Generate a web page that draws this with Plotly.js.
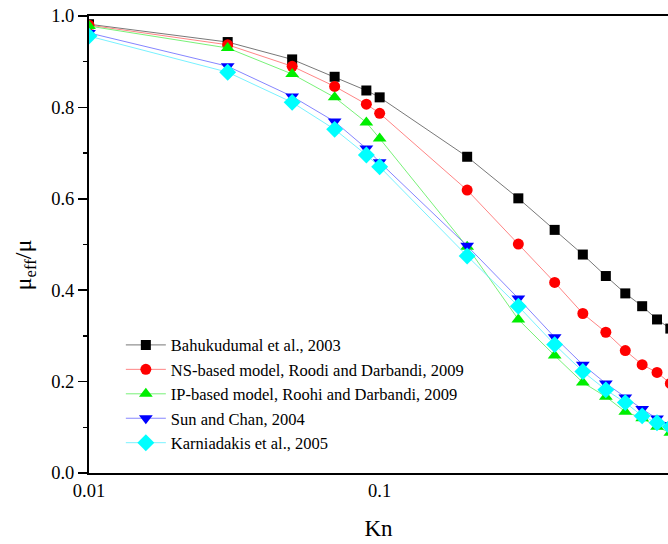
<!DOCTYPE html>
<html>
<head>
<meta charset="utf-8">
<script src="https://cdn.plot.ly/plotly-3.0.1.min.js"></script>
<style>
  html, body { margin: 0; padding: 0; background: #fff; overflow: hidden; }
  #graphDiv { width: 668px; height: 544px; }
</style>
</head>
<body>
<div id="graphDiv"></div>
<script>
// html tag
const graphDiv = document.getElementById('graphDiv');

// data **************************************************
const kn = [0.01, 0.03, 0.05, 0.07, 0.09, 0.1, 0.2, 0.3, 0.4, 0.5, 0.6, 0.7, 0.8, 0.9, 1.0];

const bahukudumal = [0.982, 0.943, 0.905, 0.867, 0.837, 0.822, 0.692, 0.601, 0.532, 0.478, 0.431, 0.393, 0.365, 0.336, 0.316];
const nsBased     = [0.980, 0.937, 0.890, 0.846, 0.807, 0.787, 0.619, 0.501, 0.417, 0.349, 0.308, 0.268, 0.237, 0.220, 0.196];
const ipBased     = [0.978, 0.930, 0.873, 0.822, 0.767, 0.732, 0.495, 0.336, 0.257, 0.198, 0.167, 0.134, 0.120, 0.101, 0.088];
const sunChan     = [0.963, 0.890, 0.824, 0.769, 0.710, 0.680, 0.497, 0.382, 0.297, 0.237, 0.196, 0.165, 0.140, 0.119, 0.105];
const karniadakis = [0.956, 0.877, 0.811, 0.752, 0.696, 0.670, 0.475, 0.365, 0.281, 0.222, 0.182, 0.154, 0.125, 0.110, 0.101];

const seriesNames = [
  'Bahukudumal et al., 2003',
  'NS-based model, Roodi and Darbandi, 2009',
  'IP-based model, Roohi and Darbandi, 2009',
  'Sun and Chan, 2004',
  'Karniadakis et al., 2005'
];

const xTickVals = [0.01, 0.1];
const xTickText = ['0.01', '0.1'];
const yTickVals = [0.0, 0.2, 0.4, 0.6, 0.8, 1.0];
const yTickText = ['0.0', '0.2', '0.4', '0.6', '0.8', '1.0'];

// *******************************

const serif = 'Times New Roman, Tinos, Nimbus Roman, FreeSerif, DejaVu Serif Condensed, DejaVu Serif';

function trace(name, y, color, lineColor, symbol, size) {
  return {
    name: name,
    x: kn,
    y: y,
    type: 'scatter',
    mode: 'lines+markers',
    line: {color: lineColor, width: 0.8},
    marker: {color: color, symbol: symbol, size: size, line: {width: 0}}
  };
}

Plotly.newPlot(
  graphDiv,
  [
    trace(seriesNames[0], bahukudumal, '#000000', '#555555', 'square', 10),
    trace(seriesNames[1], nsBased, '#ff0000', '#ff6666', 'circle', 11),
    trace(seriesNames[2], ipBased, '#00ee00', '#55ee55', 'triangle-up', 12),
    trace(seriesNames[3], sunChan, '#0000ff', '#6666ff', 'triangle-down', 12),
    trace(seriesNames[4], karniadakis, '#00ffff', '#55eeff', 'diamond', 13)
  ],
  {
    width: 668,
    height: 544,
    margin: {l: 89, r: 0, t: 16, b: 71},
    paper_bgcolor: '#ffffff',
    plot_bgcolor: '#ffffff',
    font: {family: serif, size: 18, color: '#000'},
    showlegend: true,
    legend: {
      x: 0.055, y: 0.318, xanchor: 'left', yanchor: 'top',
      bgcolor: 'rgba(0,0,0,0)', borderwidth: 0,
      font: {family: serif, size: 16.5, color: '#000'},
      itemwidth: 40,
      tracegroupgap: 0
    },
    xaxis: {
      type: 'log',
      range: [-2, -0.008],
      tickvals: xTickVals,
      ticktext: xTickText,
      ticks: '',
      showgrid: false,
      zeroline: false,
      showline: true,
      linecolor: '#000',
      linewidth: 2,
      mirror: true,
      tickfont: {family: serif, size: 18.5},
      title: {text: 'Kn', font: {family: serif, size: 23}, standoff: 20}
    },
    yaxis: {
      range: [0, 1.0],
      tickvals: yTickVals,
      ticktext: yTickText,
      ticks: 'outside',
      ticklen: 9,
      tickwidth: 1.5,
      tickcolor: '#000',
      minor: {dtick: 0.1, ticks: 'outside', ticklen: 4, tickwidth: 1.5, tickcolor: '#000'},
      showgrid: false,
      zeroline: false,
      showline: true,
      linecolor: '#000',
      linewidth: 2,
      tickfont: {family: serif, size: 18.5}
    },
    annotations: [
      {
        text: '\u03bc<sub>eff</sub>/\u03bc',
        xref: 'paper', yref: 'paper',
        x: -0.11, y: 0.455,
        xanchor: 'center', yanchor: 'middle',
        textangle: -90,
        showarrow: false,
        font: {family: serif, size: 24, color: '#000'}
      }
    ]
  },
  {displayModeBar: false, staticPlot: true}
);
</script>
</body>
</html>
